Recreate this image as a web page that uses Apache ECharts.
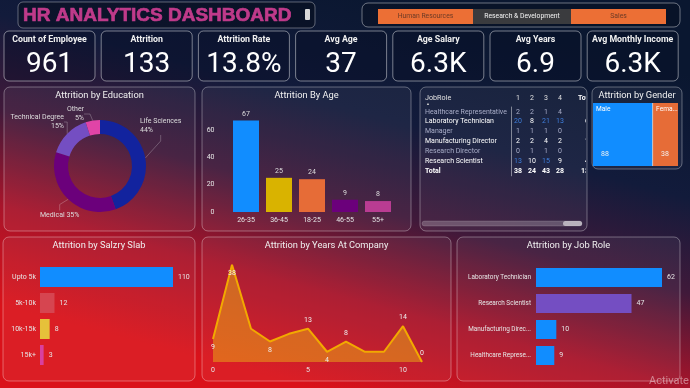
<!DOCTYPE html>
<html><head><meta charset="utf-8">
<script src="https://cdn.jsdelivr.net/npm/echarts@6/dist/echarts.min.js"></script>
<style>html,body{margin:0;padding:0;background:#0a1730;overflow:hidden}#c{width:690px;height:388px}</style>
</head><body><div id="c"></div>
<script>
// ---------- data ----------
const kpiTitles = ['Count of Employee','Attrition','Attrition Rate','Avg Age','Age Salary','Avg Years','Avg Monthly Income'];
const kpiValues = ['961','133','13.8%','37','6.3K','6.9','6.3K'];
const deptButtons = ['Human Resources','Research & Development','Sales'];
const eduNames = ['Life Sciences','Medical','Technical Degree','Other'];
const eduValues = [44,35,15,5];
const ageGroups = ['26-35','36-45','18-25','46-55','55+'];
const ageValues = [67,25,24,9,8];
const jobRoles = ['Healthcare Representative','Laboratory Technician','Manager','Manufacturing Director','Research Director','Research Scientist'];
const levelCols = ['1','2','3','4'];
const jobLevelMatrix = [[2,2,1,4],[20,8,21,13],[1,1,1,0],[2,2,4,2],[0,1,1,0],[13,10,15,9]];
const genderNames = ['Male','Female'];
const genderValues = [88,38];
const salarySlabs = ['Upto 5k','5k-10k','10k-15k','15k+'];
const salaryValues = [110,12,8,3];
const yearsAtCompany = [0,1,2,3,4,5,6,7,8,9,10,11];
const yearsValues = [9,38,13,8,11,13,4,8,4,4,14,0];
const roleNames = ['Laboratory Technician','Research Scientist','Manufacturing Director','Healthcare Representative'];
const roleValues = [62,47,10,9];

// ---------- styles ----------
const F = "Roboto,'Noto Sans',sans-serif";
const ageColors = ['#118DFF','#D9B300','#E66C37','#6B007B','#B93C92'];
const eduColors = ['#12239E','#6B007B','#744EC2','#E044A7'];
const salaryColors = ['#118DFF','#D64550','#E6C13A','#D9409F'];
const roleColors = ['#118DFF','#744EC2','#118DFF','#118DFF'];
const genderColors = ['#118DFF','#E66C37'];
const yearLabelPos = {0:'bottom',1:'bottom',3:'bottom',5:'top',6:'bottom',7:'top',10:'top',11:'top'};

const chart = echarts.init(document.getElementById('c'), null, {renderer:'canvas'});

// ---------- graphic (panels, titles) ----------
const g = [];
g.push({type:'rect', z:-100, shape:{x:0,y:0,width:690,height:388}, silent:true, style:{fill:{type:'linear',x:0.6,y:0,x2:0.45,y2:1,colorStops:[
  {offset:0,color:'#0a1730'},{offset:0.3,color:'#121b3b'},{offset:0.53,color:'#40193a'},{offset:0.76,color:'#a8142a'},{offset:1,color:'#da121a'}]}}});
// header
g.push({type:'rect', z:-50, shape:{x:18,y:2,width:297,height:26,r:5}, style:{fill:'rgba(0,0,0,0.25)',stroke:'rgba(255,255,255,0.35)',lineWidth:1}});
g.push({type:'text', z:10, x:23, y:16, style:{text:'HR ANALYTICS DASHBOARD', fill:'#BF3A8A', stroke:'#BF3A8A', lineWidth:0.7, font:"bold 19px 'Liberation Sans', Arial, sans-serif", verticalAlign:'middle'}});
g.push({type:'rect', z:10, shape:{x:305,y:9,width:5,height:11,r:1}, style:{fill:'#d8d8d8'}});
g.push({type:'rect', z:-50, shape:{x:362,y:3,width:318,height:24,r:6}, style:{fill:'rgba(0,0,0,0.15)',stroke:'rgba(255,255,255,0.4)',lineWidth:1}});
const btnX = [378,473,571,666];
deptButtons.forEach((b,i)=>{
  const sel = i===1;
  g.push({type:'rect', z:5, shape:{x:btnX[i],y:9,width:btnX[i+1]-btnX[i],height:15}, style:{fill: sel?'#3a3b3e':'#EC6F35'}});
  g.push({type:'text', z:10, x:(btnX[i]+btnX[i+1])/2, y:16.5, style:{text:b, fill: sel?'#f2f2f2':'#6b3a26', font:"6.8px "+F, align:'center', verticalAlign:'middle'}});
});
// KPI cards
kpiTitles.forEach((t,i)=>{
  const x = 4 + i*97.2;
  g.push({type:'rect', z:-50, shape:{x:x,y:31,width:91,height:50,r:5}, style:{fill:'rgba(5,12,35,0.35)',stroke:'rgba(255,255,255,0.45)',lineWidth:1}});
  g.push({type:'text', z:10, x:x+45.5, y:40, style:{text:t, fill:'#f0f0f0', font:"bold 8.8px "+F, align:'center', verticalAlign:'middle'}});
  g.push({type:'text', z:10, x:x+45.5, y:65, style:{text:kpiValues[i], fill:'#ffffff', font:"28px "+F, align:'center', verticalAlign:'middle'}});
});
// panels
const panels = [
  [4,87,191,144,'Attrition by Education',96],
  [202,87,209,144,'Attrition By Age',96],
  [420,87,167,144,null,0],
  [592,87,90,82,'Attrition by Gender',96],
  [3,237,192,144,'Attrition by Salzry Slab',246],
  [202,237,249,144,'Attrition by Years At Company',246],
  [457,237,223,144,'Attrition by Job Role',246]
];
panels.forEach(p=>{
  g.push({type:'rect', z:-50, shape:{x:p[0],y:p[1],width:p[2],height:p[3],r:6}, style:{fill:'rgba(255,255,255,0.05)',stroke:'rgba(255,255,255,0.33)',lineWidth:1}});
  if(p[4]) g.push({type:'text', z:10, x:p[0]+p[2]/2, y:p[5], style:{text:p[4], fill:'#f0f0f0', font:"9.3px "+F, align:'center', verticalAlign:'middle'}});
});
// table header + scrollbar
g.push({type:'text', z:10, x:425, y:98, style:{text:'JobRole', fill:'#e0e0e0', font:"7.2px "+F, verticalAlign:'middle'}});
g.push({type:'text', z:10, x:426, y:104, style:{text:'▲', fill:'#cccccc', font:"4px sans-serif", verticalAlign:'middle'}});
g.push({type:'rect', z:5, shape:{x:422,y:221,width:160,height:5,r:2.5}, style:{fill:'rgba(255,255,255,0.22)',stroke:'rgba(255,255,255,0.3)',lineWidth:0.5}});
g.push({type:'rect', z:6, shape:{x:563,y:221,width:19,height:5,r:2.5}, style:{fill:'rgba(255,255,255,0.55)'}});
g.push({type:'text', z:10, x:649, y:381, style:{text:'Activate', fill:'rgba(255,255,255,0.45)', font:"11px "+F, verticalAlign:'middle'}});

// ---------- table cells ----------
const rowLabels = jobRoles.concat(['Total']);
const colLabels = levelCols.concat(['Total']);
const cells = [];
jobLevelMatrix.forEach((row,r)=>{
  row.forEach((v,c)=>cells.push([c,r,v]));
  cells.push([levelCols.length, r, row.reduce((a,b)=>a+b,0)]);
});
levelCols.forEach((_,c)=>cells.push([c, jobRoles.length, jobLevelMatrix.reduce((a,row)=>a+row[c],0)]));
cells.push([levelCols.length, jobRoles.length, jobLevelMatrix.reduce((a,row)=>a+row.reduce((x,y)=>x+y,0),0)]);

const lbl = {color:'#e6e6e6', fontSize:7, fontFamily:F};
const TF = 7;

chart.setOption({
  animation:false,
  backgroundColor:'#0a1730',
  graphic: g,
  grid:[
    {left:229.5, top:116.3, width:165, height:95.7, outerBoundsMode:'none'},
    {left:511, top:107, width:70, height:68.8, outerBoundsMode:'none'},
    {left:40, top:264, width:133, height:104, outerBoundsMode:'none'},
    {left:213, top:259.6, width:209, height:102.4, outerBoundsMode:'none'},
    {left:536, top:264.5, width:126, height:104, outerBoundsMode:'none'}
  ],
  xAxis:[
    {gridIndex:0, type:'category', data:ageGroups, axisLine:{show:false}, axisTick:{show:false}, axisLabel:Object.assign({margin:5, interval:0},lbl)},
    {gridIndex:1, type:'category', data:colLabels, position:'top', axisLine:{show:false}, axisTick:{show:false},
      axisLabel:{margin:5, interval:0, color:'#e0e0e0', fontSize:TF, fontFamily:F, formatter:v=> v==='Total'?'':v}},
    {gridIndex:2, type:'value', min:0, max:110, show:false},
    {gridIndex:3, type:'value', min:0, max:11, interval:5, axisLine:{show:false}, axisTick:{show:false}, splitLine:{show:false},
      axisLabel:Object.assign({margin:5, showMaxLabel:false},lbl)},
    {gridIndex:4, type:'value', min:0, max:62, show:false}
  ],
  yAxis:[
    {gridIndex:0, type:'value', min:0, max:70, interval:20, axisLine:{show:false}, axisTick:{show:false}, splitLine:{show:false},
      axisLabel:Object.assign({margin:15, showMaxLabel:false},lbl)},
    {gridIndex:1, type:'category', data:rowLabels, inverse:true, axisTick:{show:false},
      axisLine:{show:true, lineStyle:{color:'rgba(255,255,255,0.45)'}},
      axisLabel:{margin:86, interval:0, align:'left', fontSize:TF, fontFamily:F,
        color:(v,i)=> (i%2===0 && i<jobRoles.length) ? '#a9adc8' : '#ffffff',
        formatter:(v,i)=> v==='Total' ? '{b|'+v+'}' : v,
        rich:{b:{fontWeight:'bold', color:'#ffffff', fontSize:TF, fontFamily:F}}}},
    {gridIndex:2, type:'category', data:salarySlabs, inverse:true, axisLine:{show:false}, axisTick:{show:false}, axisLabel:Object.assign({margin:4, interval:0},lbl)},
    {gridIndex:3, type:'value', min:0, max:40, show:false},
    {gridIndex:4, type:'category', data:roleNames, inverse:true, axisLine:{show:false}, axisTick:{show:false},
      axisLabel:{margin:5, interval:0, color:'#e6e6e6', fontSize:6.4, fontFamily:F, width:65, overflow:'truncate', ellipsis:'...'}}
  ],
  series:[
    {type:'pie', center:[100,166], radius:[32,46], startAngle:90, clockwise:true, silent:true,
      data: eduNames.map((n,i)=>({name:n, value:eduValues[i], itemStyle:{color:eduColors[i]}})),
      label:{show:true, color:'#dddddd', fontSize:7, fontFamily:F, lineHeight:9, overflow:'none',
        formatter:p=> p.name + (p.name==='Medical' ? ' ' : '\n') + Math.round(p.percent) + '%'},
      labelLine:{show:true, length:5, length2:6, lineStyle:{color:'rgba(255,255,255,0.3)', width:0.8}},
      labelLayout:function(p){
        const pos = [[140,126,'left'],[40,215,'left'],[64,122,'right'],[84,114,'right']][p.dataIndex];
        return {x:pos[0], y:pos[1], align:pos[2], verticalAlign:'middle'};
      }},
    {type:'bar', xAxisIndex:0, yAxisIndex:0, barWidth:26,
      data: ageValues.map((v,i)=>({value:v, itemStyle:{color:ageColors[i]}})),
      label:{show:true, position:'top', distance:3, color:'#dddddd', fontSize:7, fontFamily:F}},
    {type:'custom', xAxisIndex:1, yAxisIndex:1, data:cells, silent:true,
      renderItem:function(params, api){
        const c = api.value(0), r = api.value(1), v = api.value(2);
        const p = api.coord([c, r]);
        const totRow = r === jobRoles.length, totCol = c === levelCols.length;
        let color = (totRow || totCol) ? '#ffffff' : (r%2===0 ? '#a9adc8' : '#ffffff');
        if (!totRow && !totCol && v >= 11) color = '#3f7edb';
        const children = [{type:'text', x: totCol ? p[0]+19 : p[0], y:p[1],
          style:{text:String(v), fill:color, font:((totRow||totCol)?'bold ':'')+TF+'px '+F, align: totCol?'right':'center', verticalAlign:'middle'}}];
        if (totCol && r === 0) {
          children.push({type:'text', x:p[0]+4, y:p[1]-14, style:{text:colLabels[c], fill:'#ffffff', font:'bold '+TF+'px '+F, align:'left', verticalAlign:'middle'}});
        }
        const grp = {type:'group', children:children};
        if (totCol) grp.clipPath = {type:'rect', shape:{x:0, y:0, width:586, height:388}};
        return grp;
      }},
    {type:'treemap', left:593, top:103, width:85, height:63, roam:false, nodeClick:false, silent:true,
      breadcrumb:{show:false},
      levels:[{itemStyle:{gapWidth:1, borderWidth:0, borderColor:'rgba(255,255,255,0.7)'}}],
      data: genderNames.map((n,i)=>({name:n, value:genderValues[i], itemStyle:{color:genderColors[i]}})),
      label:{show:true, position:'insideTopLeft', distance:1, padding:[2,1,0,2], overflow:'truncate', ellipsis:'...', color:'#ffffff', fontSize:6.6, fontFamily:F, formatter:'{b}'}},
    {type:'treemap', left:593, top:103, width:85, height:63, roam:false, nodeClick:false, silent:true,
      breadcrumb:{show:false},
      levels:[{itemStyle:{gapWidth:1, borderWidth:0, borderColor:'rgba(0,0,0,0)', color:'rgba(0,0,0,0)'}}],
      data: genderNames.map((n,i)=>({name:n, value:genderValues[i], itemStyle:{color:'rgba(0,0,0,0)'}})),
      label:{show:true, position:'insideBottomLeft', distance:3, color:'#f0f0f0', fontSize:7, fontFamily:F, formatter:'{c}'}},
    {type:'bar', xAxisIndex:2, yAxisIndex:2, barWidth:20,
      data: salaryValues.map((v,i)=>({value:v, itemStyle:{color:salaryColors[i]}})),
      label:{show:true, position:'right', distance:5, color:'#e6e6e6', fontSize:7, fontFamily:F}},
    {type:'line', xAxisIndex:3, yAxisIndex:3, symbol:'circle', symbolSize:2, showSymbol:true,
      itemStyle:{color:'rgba(0,0,0,0)'},
      lineStyle:{color:'#F2A900', width:2},
      areaStyle:{color:'#E8A317', opacity:0.55},
      data: yearsAtCompany.map((x,i)=>({value:[x, yearsValues[i]],
        label:{show: yearLabelPos[i]!==undefined, position: yearLabelPos[i]||'top', distance:4, color:'#eeeeee', fontSize:7, fontFamily:F}}))},
    {type:'bar', xAxisIndex:4, yAxisIndex:4, barWidth:19,
      data: roleValues.map((v,i)=>({value:v, itemStyle:{color:roleColors[i]}})),
      label:{show:true, position:'right', distance:5, color:'#e6e6e6', fontSize:7, fontFamily:F}}
  ]
});
</script></body></html>
